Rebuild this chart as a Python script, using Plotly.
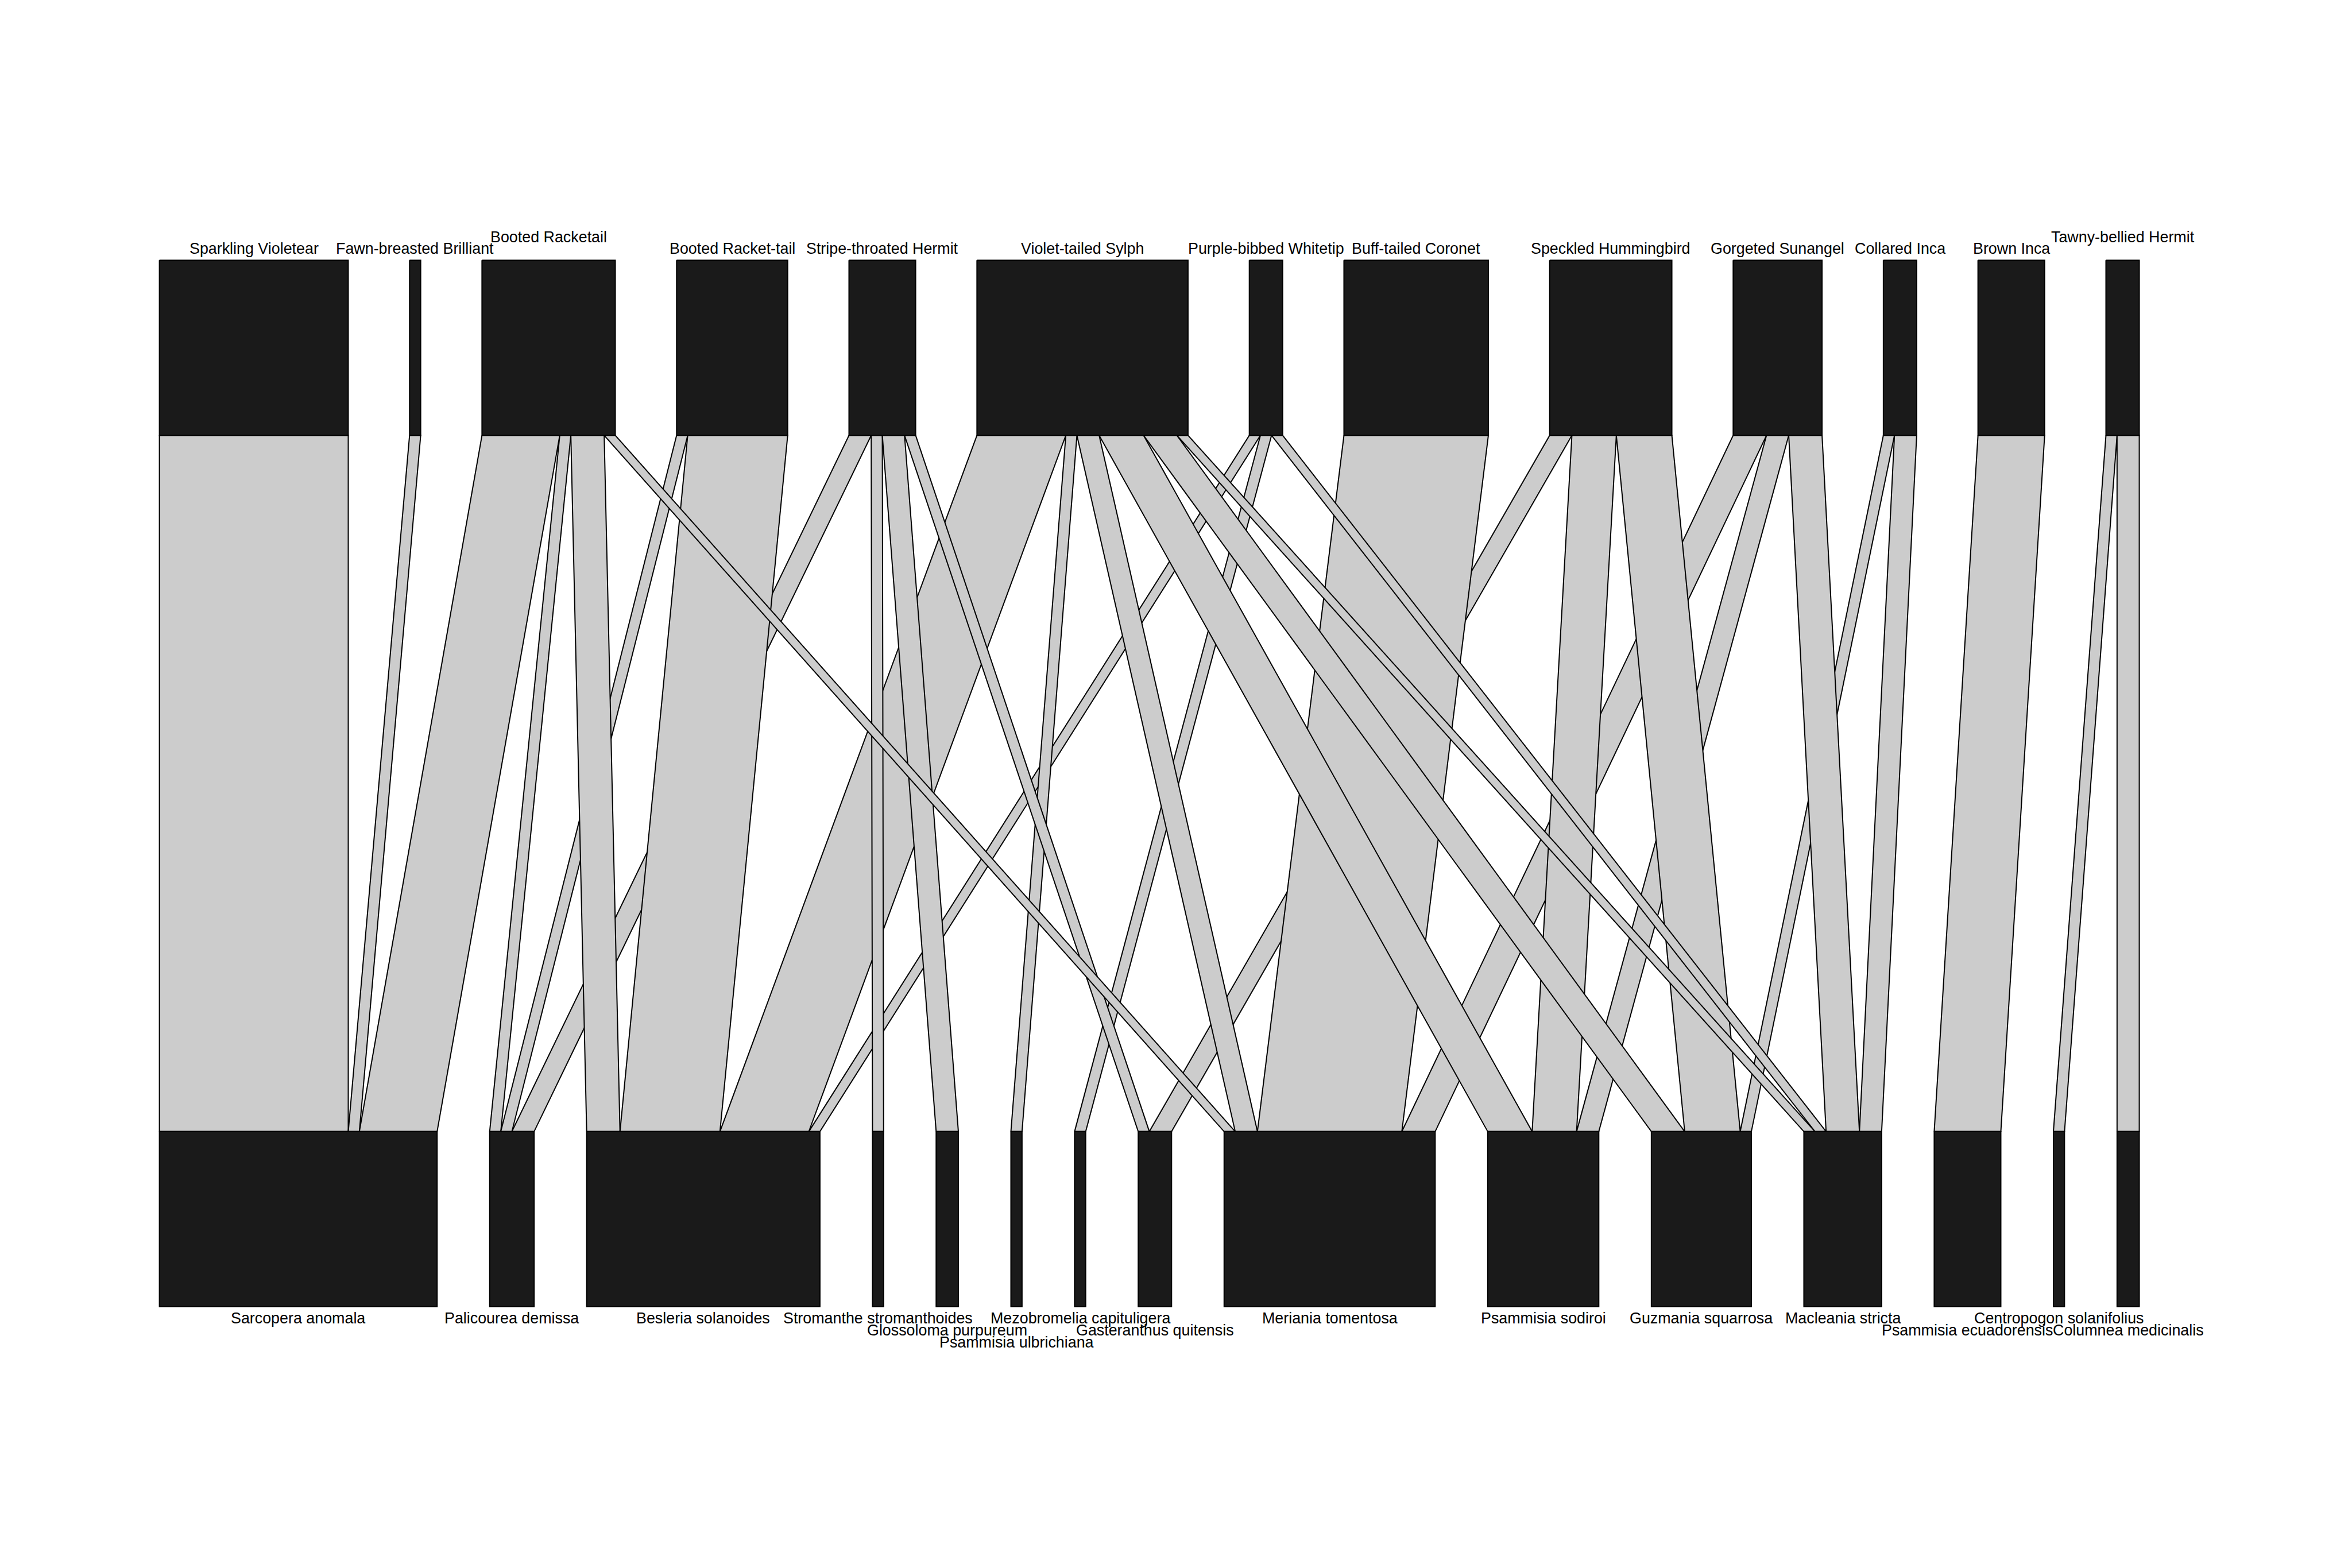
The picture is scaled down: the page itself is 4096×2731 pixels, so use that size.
import plotly.graph_objects as go

# ---------------- data ----------------
higher = ["Sparkling Violetear", "Fawn-breasted Brilliant", "Booted Racketail", "Booted Racket-tail",
          "Stripe-throated Hermit", "Violet-tailed Sylph", "Purple-bibbed Whitetip", "Buff-tailed Coronet",
          "Speckled Hummingbird", "Gorgeted Sunangel", "Collared Inca", "Brown Inca", "Tawny-bellied Hermit"]
lower = ["Sarcopera anomala", "Palicourea demissa", "Besleria solanoides", "Stromanthe stromanthoides",
         "Glossoloma purpureum", "Psammisia ulbrichiana", "Mezobromelia capituligera", "Gasteranthus quitensis",
         "Meriania tomentosa", "Psammisia sodiroi", "Guzmania squarrosa", "Macleania stricta",
         "Psammisia ecuadorensis", "Centropogon solanifolius", "Columnea medicinalis"]
# interaction counts: rows = lower (plants), columns = higher (hummingbirds)
web = [
    [17, 1, 7, 0, 0, 0, 0, 0, 0, 0, 0, 0, 0],
    [0, 0, 1, 1, 2, 0, 0, 0, 0, 0, 0, 0, 0],
    [0, 0, 3, 9, 0, 8, 1, 0, 0, 0, 0, 0, 0],
    [0, 0, 0, 0, 1, 0, 0, 0, 0, 0, 0, 0, 0],
    [0, 0, 0, 0, 2, 0, 0, 0, 0, 0, 0, 0, 0],
    [0, 0, 0, 0, 0, 1, 0, 0, 0, 0, 0, 0, 0],
    [0, 0, 0, 0, 0, 0, 1, 0, 0, 0, 0, 0, 0],
    [0, 0, 0, 0, 1, 0, 0, 0, 2, 0, 0, 0, 0],
    [0, 0, 1, 0, 0, 2, 0, 13, 0, 3, 0, 0, 0],
    [0, 0, 0, 0, 0, 4, 0, 0, 4, 2, 0, 0, 0],
    [0, 0, 0, 0, 0, 3, 0, 0, 5, 0, 1, 0, 0],
    [0, 0, 0, 0, 0, 1, 1, 0, 0, 3, 2, 0, 0],
    [0, 0, 0, 0, 0, 0, 0, 0, 0, 0, 0, 6, 0],
    [0, 0, 0, 0, 0, 0, 0, 0, 0, 0, 0, 0, 1],
    [0, 0, 0, 0, 0, 0, 0, 0, 0, 0, 0, 0, 2],
]

# ---------------- layout (reference pixel space 4500 x 3000) ----------------
X_LEFT, X_RIGHT = 305.0, 4093.0
TOP_GAP = 117.3
HI_Y0, HI_Y1 = 498.0, 833.0       # higher boxes
LO_Y0, LO_Y1 = 2165.0, 2500.0     # lower boxes
top_label_row = [0, 0, 1, 0, 0, 0, 0, 0, 0, 0, 0, 0, 1]
bot_label_row = [0, 0, 0, 0, 1, 2, 0, 1, 0, 0, 0, 0, 1, 0, 1]
TOP_BASE, TOP_STEP = 486.0, 22.0
BOT_BASE, BOT_STEP = 2532.0, 23.0
FONT_REF = 29.5
SCALE = 4096 / 4500

BOX_FILL = "#1A1A1A"
LINK_FILL = "#CCCCCC"
LW = 2.0

nL, nH = len(lower), len(higher)
hi_tot = [sum(web[i][j] for i in range(nL)) for j in range(nH)]
lo_tot = [sum(web[i]) for i in range(nL)]
total = sum(hi_tot)
W = X_RIGHT - X_LEFT
unit = (W - (nH - 1) * TOP_GAP) / total
bot_gap = (W - total * unit) / (nL - 1)

hi_x = []
acc = X_LEFT
for j in range(nH):
    hi_x.append(acc)
    acc += hi_tot[j] * unit + TOP_GAP
lo_x = []
acc = X_LEFT
for i in range(nL):
    lo_x.append(acc)
    acc += lo_tot[i] * unit + bot_gap

fig = go.Figure()


def poly(xs, ys, fill):
    fig.add_trace(go.Scatter(x=xs + [xs[0]], y=ys + [ys[0]], mode="lines", fill="toself",
                             fillcolor=fill, line=dict(color="black", width=LW),
                             hoverinfo="skip", showlegend=False))


# links
hi_off = [0.0] * nH
for i in range(nL):
    lo_off = 0.0
    for j in range(nH):
        v = web[i][j]
        if v > 0:
            # position within higher box: cumulative over lower species before i
            t0 = hi_x[j] + sum(web[k][j] for k in range(i)) * unit
            t1 = t0 + v * unit
            b0 = lo_x[i] + sum(web[i][k] for k in range(j)) * unit
            b1 = b0 + v * unit
            poly([t0, t1, b1, b0], [HI_Y1, HI_Y1, LO_Y0, LO_Y0], LINK_FILL)

# boxes
for j in range(nH):
    x0, x1 = hi_x[j], hi_x[j] + hi_tot[j] * unit
    poly([x0, x1, x1, x0], [HI_Y0, HI_Y0, HI_Y1, HI_Y1], BOX_FILL)
for i in range(nL):
    x0, x1 = lo_x[i], lo_x[i] + lo_tot[i] * unit
    poly([x0, x1, x1, x0], [LO_Y0, LO_Y0, LO_Y1, LO_Y1], BOX_FILL)

# labels
anns = []
off = 0.346 * FONT_REF
for j in range(nH):
    cx = hi_x[j] + hi_tot[j] * unit / 2
    base = TOP_BASE - top_label_row[j] * TOP_STEP
    anns.append(dict(x=cx, y=base - off, text=higher[j], showarrow=False, xanchor="center",
                     yanchor="middle", xref="x", yref="y"))
for i in range(nL):
    cx = lo_x[i] + lo_tot[i] * unit / 2
    base = BOT_BASE + bot_label_row[i] * BOT_STEP
    anns.append(dict(x=cx, y=base - off, text=lower[i], showarrow=False, xanchor="center",
                     yanchor="middle", xref="x", yref="y"))

fig.update_layout(
    width=4096, height=2731, autosize=False,
    margin=dict(l=0, r=0, t=0, b=0, pad=0),
    paper_bgcolor="white", plot_bgcolor="white",
    xaxis=dict(range=[0, 4500], visible=False, fixedrange=True),
    yaxis=dict(range=[3000, 0], visible=False, fixedrange=True),
    annotations=anns,
    font=dict(family="Liberation Sans, Arial, sans-serif", size=FONT_REF * SCALE, color="black"),
    showlegend=False,
)
fig.write_html("out.html")
